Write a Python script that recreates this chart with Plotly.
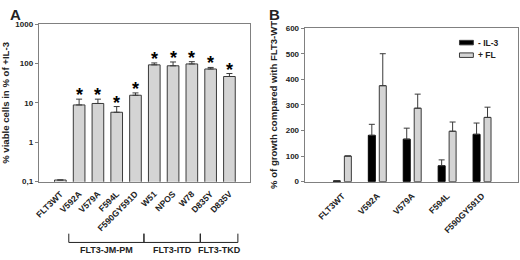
import math
import plotly.graph_objects as go

# Panel A data
mutants = ['FLT3WT', 'V592A', 'V579A', 'F594L', 'F590GY591D',
           'W51', 'NPOS', 'W78', 'D835Y', 'D835V']
viable = [0.11, 8.9, 9.7, 5.8, 15.7, 93, 88, 98, 73, 47]
viable_err = [0, 3.6, 2.8, 2.3, 2.3, 11, 22, 14, 7, 9]
signif = [False, True, True, True, True, True, True, True, True, True]
groups = [('FLT3-JM-PM', 1, 4), ('FLT3-ITD', 5, 7), ('FLT3-TKD', 8, 9)]

# Panel B data
mutants_b = ['FLT3WT', 'V592A', 'V579A', 'F594L', 'F590GY591D']
minus_il3 = [3, 181, 166, 62, 185]
minus_il3_err = [0, 43, 43, 23, 44]
plus_fl = [100, 375, 287, 197, 251]
plus_fl_err = [0, 125, 55, 36, 40]
series_names = ['- IL-3', '+ FL']

FONT = 'Liberation Sans, Arial, sans-serif'
AXC = '#808080'
GRAY = '#d4d4d4'
EDGE = '#3a3a3a'
TXT = '#222'

fig = go.Figure()

# ---- panel A
xa = list(range(len(mutants)))
fig.add_trace(go.Bar(
    x=xa, y=viable, width=0.62,
    marker=dict(color=GRAY, line=dict(color=EDGE, width=1)),
    error_y=dict(type='data', symmetric=False, array=viable_err,
                 arrayminus=[0] * len(viable), color=EDGE, thickness=1, width=3),
    xaxis='x', yaxis='y', showlegend=False))

# ---- panel B
xb = list(range(len(mutants_b)))
fig.add_trace(go.Bar(
    x=xb, y=minus_il3, width=0.2, offset=-0.257, name=series_names[0],
    marker=dict(color='black', line=dict(color='black', width=1)),
    error_y=dict(type='data', symmetric=False, array=minus_il3_err,
                 arrayminus=[0] * len(xb), color=EDGE, thickness=1, width=3),
    xaxis='x2', yaxis='y2', showlegend=False))
fig.add_trace(go.Bar(
    x=xb, y=plus_fl, width=0.2, offset=0.057, name=series_names[1],
    marker=dict(color=GRAY, line=dict(color=EDGE, width=1)),
    error_y=dict(type='data', symmetric=False, array=plus_fl_err,
                 arrayminus=[0] * len(xb), color=EDGE, thickness=1, width=3),
    xaxis='x2', yaxis='y2', showlegend=False))

ytickfont = dict(family=FONT, size=8, color=TXT, weight='bold')
xtickfont = dict(family=FONT, size=8.6, color=TXT, weight='bold')
axis_common = dict(showline=True, linecolor=AXC, linewidth=1, mirror=True,
                   showgrid=False, zeroline=False)

shapes = []
annotations = []

# significance stars above the error bars (log axis -> log10 position)
for i, v, e, s in zip(xa, viable, viable_err, signif):
    if s:
        annotations.append(dict(x=i, y=math.log10(v + e), xref='x', yref='y',
                                text='*', showarrow=False, yanchor='middle', yshift=4,
                                font=dict(family=FONT, size=18, color='black', weight='bold')))

# brackets under panel A
for label, first, last in groups:
    x0, x1 = first - 0.55, last + 0.45
    shapes.append(dict(type='path', xref='x', yref='paper',
                       path=f'M {x0},0.085 L {x0},0.05 L {x1},0.05 L {x1},0.085',
                       line=dict(color=TXT, width=1)))
    annotations.append(dict(x=(x0 + x1) / 2, y=1 - 255 / 260, xref='x', yref='paper',
                            yanchor='middle', text=label, showarrow=False,
                            font=dict(family=FONT, size=9, color=TXT, weight='bold')))

# legend for panel B
for i, (name, col) in enumerate(zip(series_names, ['black', GRAY])):
    yy = 1 - (40 + i * 13) / 260
    shapes.append(dict(type='rect', xref='paper', yref='paper',
                       x0=459 / 520, x1=473 / 520, y0=yy - 0.009, y1=yy + 0.009,
                       fillcolor=col, line=dict(color=EDGE, width=1)))
    annotations.append(dict(x=476 / 520, y=yy, xref='paper', yref='paper',
                            xanchor='left', yanchor='middle', text=name, showarrow=False,
                            font=dict(family=FONT, size=8.5, color=TXT, weight='bold')))

for letter, px in [('A', 4), ('B', 265)]:
    annotations.append(dict(x=px / 520, y=1.0, xref='paper', yref='paper',
                            xanchor='left', yanchor='top', text=letter,
                            showarrow=False,
                            font=dict(family=FONT, size=15, color=TXT, weight='bold')))

fig.update_layout(
    width=520, height=260,
    margin=dict(l=0, r=0, t=0, b=0),
    paper_bgcolor='white', plot_bgcolor='white',
    font=dict(family=FONT, color=TXT),
    xaxis=dict(domain=[35 / 520, 248 / 520], range=[-1.15, 10.1],
               tickvals=xa, ticktext=mutants, tickangle=-45, ticks='',
               ticklabelstandoff=3, tickfont=xtickfont,
               anchor='y', **axis_common),
    yaxis=dict(domain=[1 - 184 / 260, 1 - 21 / 260], type='log', range=[-1, 3],
               tickvals=[0.1, 1, 10, 100, 1000],
               ticktext=['0,1', '1', '10', '100', '1000'],
               ticks='outside', ticklen=3, tickcolor=AXC, tickfont=ytickfont,
               title=dict(text='% viable cells in % of +IL-3', standoff=7,
                          font=dict(family=FONT, size=9.6, color=TXT, weight='bold')),
               anchor='x', **axis_common),
    xaxis2=dict(domain=[303 / 520, 518 / 520], range=[-1.08, 5.03],
                tickvals=xb, ticktext=mutants_b, tickangle=-45, ticks='',
                ticklabelstandoff=5, tickfont=xtickfont,
                anchor='y2', **axis_common),
    yaxis2=dict(domain=[1 - 184 / 260, 1 - 25 / 260], range=[0, 600], dtick=100,
                ticks='outside', ticklen=3, tickcolor=AXC, tickfont=ytickfont,
                title=dict(text='% of growth compared with FLT3-WT', standoff=6,
                           font=dict(family=FONT, size=9.6, color=TXT, weight='bold')),
                anchor='x2', **axis_common),
    shapes=shapes, annotations=annotations,
)

# drop the default page margin so the figure sits at the window's corner
fig.write_html('out.html', config={'displayModeBar': False},
               post_script="document.body.style.margin='0';")
